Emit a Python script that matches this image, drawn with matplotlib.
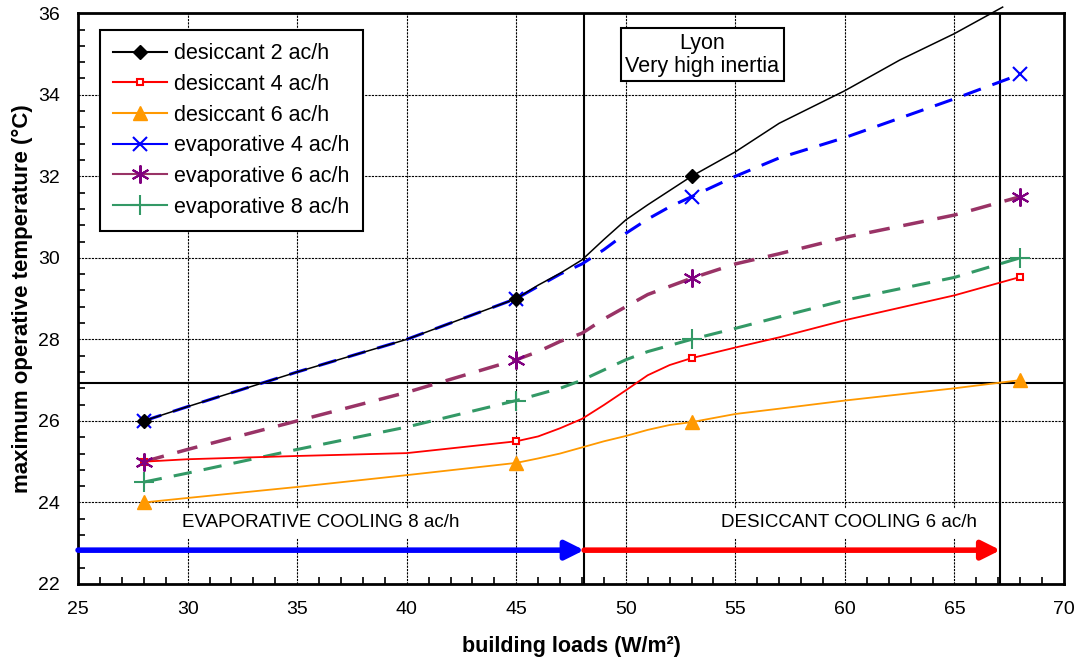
import matplotlib
matplotlib.use('Agg')
import matplotlib.pyplot as plt
from matplotlib.lines import Line2D
from matplotlib.ticker import MultipleLocator

plt.rcParams['font.family'] = ['Liberation Sans', 'DejaVu Sans']

# building loads (W/m2)
loads = [28, 30, 35, 40, 45, 46, 47, 48, 49, 50, 51, 52, 53, 55, 57, 60, 65, 68]
loads_d2 = [28, 30, 35, 40, 45, 46, 47, 48, 49, 50, 51, 52, 53, 55, 57, 60, 62.5, 65, 67.2]
marked = [0, 4, 12, 17]

desic2 = [26.0, 26.35, 27.2, 28.0, 29.0, 29.33, 29.62, 29.95, 30.45, 30.93, 31.3, 31.65, 32.0,
          32.6, 33.3, 34.1, 34.85, 35.5, 36.15]
desic4 = [25.0, 25.06, 25.14, 25.21, 25.5, 25.62, 25.82, 26.05, 26.39, 26.75, 27.12, 27.37, 27.54,
          27.8, 28.05, 28.47, 29.08, 29.53]
desic6 = [24.0, 24.11, 24.38, 24.67, 24.97, 25.08, 25.2, 25.35, 25.5, 25.63, 25.78, 25.9, 25.97,
          26.17, 26.3, 26.5, 26.8, 27.0]
evap4 = [26.0, 26.35, 27.2, 28.0, 29.0, 29.3, 29.6, 29.85, 30.2, 30.6, 30.95, 31.25, 31.5,
         32.0, 32.45, 32.95, 33.9, 34.5]
evap6 = [25.0, 25.3, 26.0, 26.7, 27.5, 27.7, 27.95, 28.15, 28.5, 28.8, 29.1, 29.3, 29.5,
         29.85, 30.1, 30.5, 31.05, 31.5]
evap8 = [24.5, 24.72, 25.3, 25.85, 26.5, 26.65, 26.8, 27.0, 27.25, 27.5, 27.7, 27.85, 28.0,
         28.27, 28.55, 28.96, 29.52, 30.0]

switch_load = 48.1
limit_load = 67.1
comfort_temp = 26.93

fig = plt.figure(figsize=(10.78, 6.61), dpi=100)
ax = fig.add_axes([0.0724, 0.1165, 0.9146, 0.8635])

ax.plot(loads_d2, desic2, color='black', lw=1.1, marker='D', ms=7, markevery=[0, 4, 12],
        clip_on=False, zorder=5)
ax.plot(loads, desic4, color='red', lw=1.3, marker='s', ms=5, mfc='white', mec='red', mew=1.5,
        markevery=marked, zorder=5)
ax.plot(loads, desic6, color='#FF9900', lw=1.3, marker='^', ms=10, markevery=marked, zorder=5)
ax.plot(loads, evap4, color='blue', lw=2.2, ls=(0, (6, 4)), marker='x', ms=10, mew=1.5,
        markevery=marked, zorder=4)
ax.plot(loads, evap6, color='#993366', lw=2.5, ls=(0, (6, 4)), zorder=4)
ax.plot([loads[i] for i in marked], [evap6[i] for i in marked], ls='none', marker=(6, 2, 0),
        ms=13, mec='#800080', mew=1.5, zorder=5)
ax.plot(loads, evap8, color='#339966', lw=2.2, ls=(0, (6, 4)), marker='+', ms=14, mew=1.5,
        markevery=marked, zorder=4)

# thresholds
ax.axvline(switch_load, color='black', lw=1.5, zorder=3)
ax.axvline(limit_load, color='black', lw=1.5, zorder=3)
ax.axhline(comfort_temp, color='black', lw=1.5, zorder=3)

# arrows
ax.annotate('', xy=(switch_load, 22.83), xytext=(25, 22.83),
            arrowprops=dict(arrowstyle='-|>', color='blue', lw=4, mutation_scale=28,
                            shrinkA=0, shrinkB=0), zorder=6, annotation_clip=False)
ax.annotate('', xy=(limit_load, 22.83), xytext=(switch_load, 22.83),
            arrowprops=dict(arrowstyle='-|>', color='red', lw=4, mutation_scale=28,
                            shrinkA=0, shrinkB=0), zorder=6)
ax.text(36.1, 23.5, 'EVAPORATIVE COOLING 8 ac/h', ha='center', va='center', fontsize=13.5,
        backgroundcolor='white', zorder=3)
ax.text(60.2, 23.5, 'DESICCANT COOLING 6 ac/h', ha='center', va='center', fontsize=13.5,
        backgroundcolor='white', zorder=3)
ax.text(53.49, 34.98, 'Lyon\nVery high inertia', ha='center', va='center', fontsize=15.5,
        linespacing=1.15, zorder=6,
        bbox=dict(boxstyle='square,pad=0.2', fc='white', ec='black', lw=1.5))

ax.set_xlim(25, 70)
ax.set_ylim(22, 36)
ax.xaxis.set_major_locator(MultipleLocator(5))
ax.xaxis.set_minor_locator(MultipleLocator(1))
ax.yaxis.set_major_locator(MultipleLocator(2))
ax.yaxis.set_minor_locator(MultipleLocator(0.4))
ax.tick_params(which='both', direction='in', labelsize=14, width=1.2)
ax.tick_params(which='major', length=0)
ax.tick_params(axis='x', which='major', pad=12)
ax.tick_params(axis='y', which='major', pad=13)
ax.tick_params(which='minor', length=5)
ax.grid(True, which='major', color='black', ls=(0, (2, 1)), lw=0.8)
for s in ax.spines.values():
    s.set_linewidth(2)

ax.set_xlabel('building loads (W/m²)', fontsize=15.5, fontweight='bold', labelpad=13)
ax.set_ylabel('maximum operative temperature (°C)', fontsize=16, fontweight='bold', labelpad=4)

handles = [
    Line2D([], [], color='black', marker='D', ms=7, lw=1.5),
    Line2D([], [], color='red', marker='s', ms=5, mfc='white', mec='red', mew=1.5, lw=1.5),
    Line2D([], [], color='#FF9900', marker='^', ms=10, lw=1.5),
    Line2D([], [], color='blue', marker='x', ms=10, mew=1.5, lw=1.5),
    Line2D([], [], color='#993366', marker=(6, 2, 0), ms=13, mec='#800080', mew=1.5, lw=1.5),
    Line2D([], [], color='#339966', marker='+', ms=14, mew=1.5, lw=1.5),
]
labels = ['desiccant 2 ac/h', 'desiccant 4 ac/h', 'desiccant 6 ac/h',
          'evaporative 4 ac/h', 'evaporative 6 ac/h', 'evaporative 8 ac/h']
leg = ax.legend(handles, labels, loc='upper left', bbox_to_anchor=(0.0223, 0.970), borderaxespad=0,
                fontsize=15.5, fancybox=False, framealpha=1, edgecolor='black', handlelength=2.5,
                labelspacing=0.45, borderpad=0.6, handletextpad=0.35)
leg.get_frame().set_linewidth(1.5)
leg.set_zorder(10)

fig.savefig('out.png', dpi=100)
